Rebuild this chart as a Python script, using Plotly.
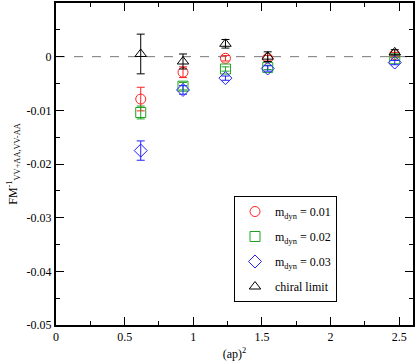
import plotly.graph_objects as go

# (ap)^2 values
ap2 = [0.617, 0.925, 1.234, 1.542, 2.467]

# FM^-1 values and errors per series
m001 = [-0.0079, -0.0029, -0.0003, -0.0003, 0.0004]
m001_err = [0.0022, 0.0010, 0.0005, 0.0005, 0.0004]
m002 = [-0.0104, -0.0055, -0.0023, -0.0020, -0.0004]
m002_err = [0.0012, 0.0007, 0.0004, 0.0004, 0.0003]
m003 = [-0.0175, -0.0062, -0.0040, -0.0022, -0.0011]
m003_err = [0.0018, 0.0008, 0.0004, 0.0005, 0.0004]
chiral = [0.0005, -0.0009, 0.0024, 0.0000, 0.0008]
chiral_err = [0.0037, 0.0014, 0.0008, 0.0009, 0.0005]

x_ticks = [0, 0.5, 1, 1.5, 2, 2.5]
x_ticktext = ['0', '0.5', '1', '1.5', '2', '2.5']
y_ticks = [0, -0.01, -0.02, -0.03, -0.04, -0.05]
y_ticktext = ['0', '-0.01', '-0.02', '-0.03', '-0.04', '-0.05']

FONT = 'Liberation Serif'

series = [
    ('m<sub>dyn</sub> = 0.01', m001, m001_err, '#ff2020', 'circle-open'),
    ('m<sub>dyn</sub> = 0.02', m002, m002_err, '#20a020', 'square-open'),
    ('m<sub>dyn</sub> = 0.03', m003, m003_err, '#2020ff', 'diamond-open'),
    ('chiral limit', chiral, chiral_err, '#000000', 'triangle-up-open'),
]

fig = go.Figure()

for name, vals, errs, color, symbol in series:
    fig.add_trace(go.Scatter(
        x=ap2, y=vals, mode='markers', name=name, legendgroup=name,
        marker=dict(symbol=symbol, size=10, color=color, line=dict(width=1, color=color)),
        error_y=dict(type='data', array=errs, visible=True, color=color, thickness=1, width=4),
    ))

# dashed zero line
fig.add_shape(type='line', xref='paper', x0=0, x1=1, y0=0, y1=0,
              line=dict(color='#777777', width=1, dash='dash'), layer='below')

axis_common = dict(
    showgrid=False, zeroline=False, showline=True, linecolor='black', linewidth=2,
    mirror='ticks', ticks='inside', ticklen=8, tickwidth=1, tickcolor='black',
    tickfont=dict(family=FONT, size=12, color='black'), automargin=False,
)

fig.update_xaxes(
    range=[0, 2.6], tickvals=x_ticks, ticktext=x_ticktext,
    minor=dict(ticks='inside', ticklen=4, dtick=0.25, tick0=0, tickcolor='black'),
    title=dict(text='(ap)<sup>2</sup>', font=dict(family=FONT, size=12, color='black'), standoff=6),
    **axis_common,
)
fig.update_yaxes(
    range=[-0.05, 0.01], tickvals=y_ticks, ticktext=y_ticktext,
    minor=dict(ticks='inside', ticklen=4, dtick=0.005, tick0=0, tickcolor='black'),
    title=dict(text='FM<sup>-1</sup><sub>VV+AA,VV-AA</sub>', font=dict(family=FONT, size=12, color='black'),
               standoff=6),
    **axis_common,
)

fig.update_layout(
    width=415, height=363,
    margin=dict(l=56, r=2, t=3, b=38),
    plot_bgcolor='white', paper_bgcolor='white',
    font=dict(family=FONT, color='black'),
    legend=dict(x=0.4986, y=0.4006, xanchor='left', yanchor='top',
                bgcolor='white', bordercolor='black', borderwidth=1,
                tracegroupgap=6,
                font=dict(family=FONT, size=12, color='black')),
)

fig.write_html("out.html", config={'displayModeBar': False},
               post_script="document.body.style.margin='0px';")
